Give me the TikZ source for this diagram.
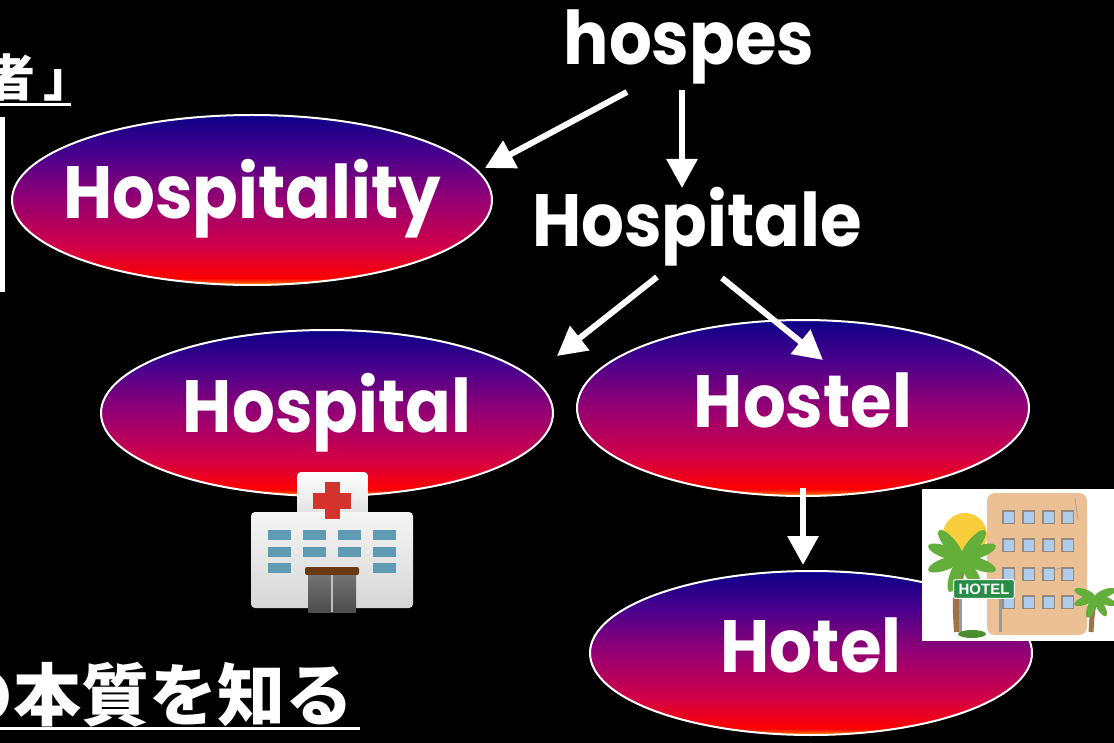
\documentclass[tikz,border=0pt]{standalone}
\usepackage{fontspec}
\setmainfont{Poppins}
\newfontfamily\jpfont{Noto Sans CJK JP}
\newfontfamily\signfont{Liberation Sans}
\usetikzlibrary{shapes.geometric,arrows.meta}

\definecolor{ovaltop}{RGB}{12,0,135}
\definecolor{ovalviolet}{RGB}{75,0,140}
\definecolor{ovalmid}{RGB}{150,0,115}
\definecolor{ovalrose}{RGB}{210,0,70}
\definecolor{ovalred}{RGB}{252,0,0}
\definecolor{ovaledge}{RGB}{255,135,0}
\definecolor{crossred}{RGB}{212,50,45}
\definecolor{winteal}{RGB}{95,155,178}
\definecolor{doorbrown}{RGB}{105,58,20}
\definecolor{walltan}{RGB}{234,192,148}
\definecolor{glassblue}{RGB}{175,205,235}
\definecolor{framegray}{RGB}{150,138,128}
\definecolor{sunyellow}{RGB}{250,205,60}
\definecolor{palmgreen}{RGB}{100,175,60}
\definecolor{trunkbrown}{RGB}{160,115,70}
\definecolor{signgreen}{RGB}{40,140,70}

\pgfdeclareverticalshading{ovalfill}{100bp}{color(0bp)=(ovaledge); color(25bp)=(ovaledge);
  color(27bp)=(ovalred); color(36bp)=(ovalrose); color(50bp)=(ovalmid);
  color(63bp)=(ovalviolet); color(75bp)=(ovaltop); color(100bp)=(ovaltop)}

\tikzset{
  oval/.style={ellipse, draw=white, line width=2pt, shade, shading=ovalfill, inner sep=0pt},
  word/.style={text=white, inner sep=0pt, text height=53pt, text depth=15pt,
    font=\fontsize{74}{80}\selectfont\bfseries, xscale=0.91, transform shape},
  link/.style={white, line width=6pt, -{Triangle[width=30pt,length=29pt]}},
  underline/.style={white, line width=3pt},
  leaf/.style={fill=palmgreen},
}

\begin{document}
\begin{tikzpicture}[x=1pt, y=-1pt]
\useasboundingbox (0,0) rectangle (1114,743);
\clip (0,0) rectangle (1114,743);
\fill[black] (0,0) rectangle (1114,743);

	% japanese title lines on the left
\node[text=white, inner sep=0pt, anchor=base west, font=\jpfont\bfseries\fontsize{50}{50}\selectfont] (guest) at (-15,97) {者\kern8pt」};
\draw[underline] (0,104.5) -- (71,104.5);
\fill[white] (0,117) rectangle (5,292);
\node[text=white, inner sep=0pt, anchor=base east, font=\jpfont\bfseries\fontsize{68}{68}\selectfont] (essence) at (354,720) {の本質を知る};
\draw[underline] (0,728) -- (360,728);

	% words
\node[word, anchor=base] (hospes) at (689,65) {hospes};
\node[word, anchor=base] (hospitale) at (697,247) {Hospitale};

	% ovals
\node[oval, minimum width=480pt, minimum height=170pt, label={[word]center:Hospitality}] (hospitality) at (252,200) {};
\node[oval, minimum width=452pt, minimum height=166pt, label={[word]center:Hospital}] (hospital) at (327,413) {};
\node[oval, minimum width=452pt, minimum height=176pt, label={[word]center:Hostel}] (hostel) at (803,408) {};
\node[oval, minimum width=442pt, minimum height=164pt, label={[word]center:Hotel}] (hotel) at (811,653) {};

	% arrows
\draw[link] ([shift={(-62,27)}]hospes.base) -- ([shift={(233,-32)}]hospitality.center);
\draw[link] ([shift={(-7,25)}]hospes.base) -- ([shift={(-15,-59)}]hospitale.base);
\draw[link] ([shift={(-40,30)}]hospitale.base) -- ([shift={(230,-57)}]hospital.center);
\draw[link] ([shift={(25,31)}]hospitale.base) -- ([shift={(20,-48)}]hostel.center);
\draw[link] ([shift={(0,80)}]hostel.center) -- ([shift={(-8,-88)}]hotel.center);

	% hospital icon
\shade[top color=white, bottom color=black!12, rounded corners=4pt] (297,472) rectangle (368,516);
\shade[top color=black!4, bottom color=black!16, rounded corners=4pt] (251,512) rectangle (413,608);
\fill[crossred] (313,493) rectangle (351,509);
\fill[crossred] (325,482) rectangle (340,519);
\foreach \x in {268,303,338,373}{
  \fill[winteal] (\x,530) rectangle +(23,10);
  \fill[winteal] (\x,547) rectangle +(23,10);
}
\foreach \x in {268,373}
  \fill[winteal] (\x,563) rectangle +(23,10);
\fill[doorbrown, rounded corners=2pt] (305,567) rectangle (359,575);
\shade[top color=black!55, bottom color=black!70] (308,575) rectangle (356,612);
\draw[black!25, line width=1.5pt] (332,575) -- (332,612);

	% hotel picture
\fill[white] (922,489) rectangle (1114,641);
\fill[sunyellow] (965,535) circle (22);
\fill[walltan, rounded corners=8pt] (987,635) -- (987,493) -- (1087,493) -- (1087,635) -- cycle;
\draw[black!35, line width=0.8pt] (1075,498) -- (1078,520) (1040,572) -- (1062,568) -- (1070,575);
\foreach \x in {1002,1022,1042,1061}
  \foreach \y in {510,538,567,595}{
    \fill[framegray] (\x,\y) rectangle +(13,14);
    \fill[glassblue] (\x+1.5,\y+1.5) rectangle +(10,11);
  }
\draw[trunkbrown, line width=8pt] (958,632) .. controls (956,600) .. (962,560);
\foreach \a in {-160,160,130,-110,-60,-20,20,50}
  \fill[leaf, rotate around={\a:(962,558)}] (980,558) ellipse (18 and 6);
\draw[black!40, line width=3pt] (960,598) -- (960,632) (1000,598) -- (1000,632);
\node[fill=signgreen, draw=white, line width=1pt, rounded corners=2pt, inner xsep=5pt, inner ysep=4pt, text=white, font=\signfont\bfseries\fontsize{15}{15}\selectfont] (hotelsign) at (984,589) {HOTEL};
\draw[trunkbrown, line width=5pt] (1091,632) .. controls (1092,615) .. (1095,598);
\foreach \a in {-160,160,-110,-60,-20,20}
  \fill[leaf, rotate around={\a:(1095,597)}] (1106,597) ellipse (11 and 4);
\fill[palmgreen!80!black] (972,634) ellipse (14 and 4);

\end{tikzpicture}
\end{document}
